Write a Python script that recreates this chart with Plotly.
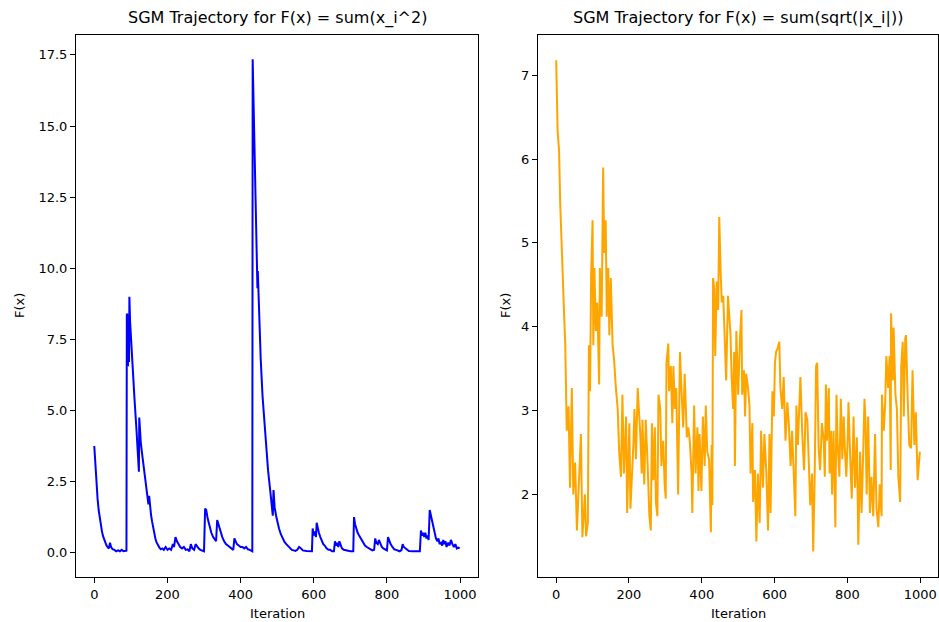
import plotly.graph_objects as go

# ---------------- data ----------------
sq_iter = [0, 3, 6, 9, 12, 15, 18, 21, 24, 27, 30, 33, 36, 40, 43, 46, 50, 55, 60, 65, 70, 75, 80, 85, 88,
           89, 91, 92, 94, 95, 96, 98, 100, 105, 110, 115, 119, 122, 123, 125, 126, 127, 130, 135, 140, 145,
           148, 150, 152, 155, 158, 161, 164, 167, 170, 174, 178, 182, 186, 190, 195, 200, 205, 210, 215,
           218, 222, 226, 230, 235, 240, 245, 250, 255, 260, 264, 268, 273, 277, 281, 285, 290, 295, 300,
           303, 306, 310, 315, 320, 325, 330, 333, 336, 339, 342, 346, 350, 355, 360, 365, 370, 375, 380,
           383, 386, 390, 395, 400, 405, 410, 415, 420, 425, 430, 432,
           433, 435, 438, 441, 444, 446, 447, 450, 455, 460, 465, 470, 475, 480, 485, 488, 490, 493, 497,
           500, 505, 510, 515, 520, 525, 530, 535, 540, 545, 550, 555, 560, 565, 570, 580, 590, 595,
           597, 600, 603, 606, 608, 611, 614, 618, 622, 626, 630, 635, 640, 645, 650, 655, 658, 661, 664,
           667, 670, 673, 677, 682, 688, 695, 700, 708,
           710, 713, 716, 720, 724, 728, 732, 736, 740, 745, 750, 755, 760, 765, 768, 771, 775, 778, 782,
           786, 790, 795, 800, 803, 806, 810, 815, 820, 825, 830, 835, 840, 843, 846, 850, 855, 860, 870,
           880, 890, 893, 896, 899, 902, 905, 908, 911, 914, 917, 920, 923, 926, 930, 934, 938, 941, 944,
           948, 951, 954, 957, 960, 963, 967, 971, 975, 979, 983, 987, 991, 995, 999]
sq_value = [3.75, 3.0, 2.4, 1.9, 1.5, 1.2, 0.95, 0.75, 0.58, 0.45, 0.35, 0.27, 0.2, 0.15, 0.35, 0.2, 0.12, 0.1,
            0.05, 0.08, 0.05, 0.1, 0.05, 0.05, 0.07,
            8.4, 8.35, 6.55, 8.3, 6.7, 9.0, 8.1, 7.6, 6.5, 5.4, 4.4, 3.6, 2.85, 4.75, 4.0, 4.3, 3.9, 3.55, 3.0,
            2.5, 2.1, 1.7, 2.0, 1.6, 1.35, 1.1, 0.85, 0.65, 0.5, 0.37, 0.25, 0.18, 0.12, 0.15, 0.1, 0.2, 0.1,
            0.15, 0.1, 0.3, 0.2, 0.55, 0.4, 0.3, 0.2, 0.15, 0.2, 0.1, 0.12, 0.05, 0.3, 0.15, 0.1, 0.3, 0.2,
            0.15, 0.1, 0.08, 0.05,
            1.55, 1.5, 1.2, 0.9, 0.7, 0.55, 0.45, 0.4, 1.15, 1.0, 0.9, 0.7, 0.55, 0.4, 0.3, 0.25, 0.2, 0.15,
            0.1, 0.5, 0.4, 0.3, 0.25, 0.2, 0.2, 0.15, 0.2, 0.12, 0.1, 0.05, 0.05,
            17.35, 16.0, 14.0, 12.0, 10.5, 9.3, 9.9, 8.4, 6.8, 5.5, 4.5, 3.6, 2.9, 2.3, 1.8, 1.3, 2.2, 1.6,
            1.3, 1.1, 0.85, 0.65, 0.5, 0.38, 0.3, 0.22, 0.15, 0.1, 0.08, 0.06, 0.1, 0.2, 0.15, 0.08, 0.06,
            0.05, 0.05,
            0.85, 0.6, 0.75, 0.55, 1.05, 0.85, 0.7, 0.55, 0.4, 0.3, 0.25, 0.15, 0.1, 0.1, 0.05, 0.05, 0.4,
            0.25, 0.35, 0.2, 0.4, 0.25, 0.15, 0.1, 0.08, 0.05, 0.05, 0.05,
            1.25, 1.0, 0.85, 0.7, 0.6, 0.5, 0.4, 0.3, 0.25, 0.2, 0.15, 0.1, 0.08, 0.1, 0.5, 0.35, 0.3, 0.45,
            0.3, 0.2, 0.15, 0.1, 0.08, 0.55, 0.4, 0.3, 0.2, 0.12, 0.1, 0.08, 0.05, 0.1, 0.3, 0.2, 0.15, 0.1,
            0.06, 0.05, 0.05, 0.05, 0.78, 0.6, 0.7, 0.55, 0.7, 0.5, 0.6, 0.45, 1.5, 1.3, 1.1, 0.9, 0.7, 0.5,
            0.4, 0.5, 0.3, 0.35, 0.25, 0.45, 0.3, 0.4, 0.2, 0.35, 0.25, 0.45, 0.3, 0.2, 0.3, 0.15, 0.18, 0.15]

sqrt_iter = [0, 4, 8, 11, 22, 25, 29, 34, 38, 43, 47, 52, 57, 63, 68, 72, 79, 82, 87, 90, 93, 96, 100, 102,
             105, 109, 113, 118, 120, 125, 129, 132, 136, 139, 143, 146, 150, 155, 159, 164, 169, 173, 178,
             182, 186, 192, 195, 201, 204, 212,
             215, 219, 224, 226, 231, 235, 237, 242, 246, 251, 256, 260, 263, 267, 271, 274, 278, 281, 286,
             289, 294, 298, 301, 303, 308, 310, 315, 319, 322, 326, 330, 335, 338, 340, 344, 349, 353, 356,
             359, 363, 367, 372, 374, 379, 383, 388, 391, 394, 399, 403, 408, 411, 415, 420, 422, 425, 427,
             429, 431, 434, 437, 441, 445, 448, 452, 455, 459, 463, 467, 472,
             475, 479, 482, 486, 489, 491, 495, 500, 505, 509, 511, 516, 519, 522, 527, 531, 534, 539, 541,
             546, 550, 554, 559, 563, 568, 572, 577, 582, 586, 589, 594, 598, 601, 604, 608, 613, 616, 621,
             625, 630, 635, 639, 644, 648, 653, 657, 660, 664, 668, 671, 676, 681, 685, 690, 694, 698, 703,
             706, 710, 714, 717, 721, 725, 730, 735,
             738, 741, 744, 749, 751, 755, 758, 762, 767, 770, 773, 778, 782, 786, 790, 793, 797, 801, 803,
             808, 812, 817, 821, 826, 830, 835, 839, 844, 847, 850, 853, 857, 862, 866, 871, 876, 880, 885,
             889, 894, 895, 900, 904, 907, 912, 916, 919, 920, 925, 927, 932, 936, 940, 945, 948, 952, 955,
             959, 961, 966, 970, 975, 979, 984, 988, 993, 999]
sqrt_value = [7.18, 6.33, 6.1, 5.48, 4.12, 3.78, 2.76, 3.05, 2.08, 3.27, 2.0, 2.38, 1.57, 2.25, 2.72, 1.49,
              2.0, 1.5, 1.66, 3.78, 3.23, 4.63, 5.27, 3.78, 4.7, 3.95, 4.29, 3.31, 4.7, 4.12, 5.9, 4.88, 5.27,
              4.12, 4.7, 3.9, 4.58, 3.78, 3.61, 3.27, 3.02, 2.51, 2.21, 3.19, 2.25, 2.93, 1.78, 2.85, 1.83,
              2.59,
              3.02, 2.42, 3.27, 3.1, 2.72, 2.25, 2.89, 2.12, 2.89, 2.38, 1.74, 1.57, 2.85, 2.17, 2.8, 1.91,
              1.74, 3.19, 3.02, 2.34, 2.64, 2.12, 1.95, 3.57, 3.8, 3.23, 3.53, 2.85, 3.53, 3.02, 3.27, 2.0,
              3.44, 3.7, 3.27, 2.8, 3.44, 3.06, 2.68, 2.8, 2.64, 2.25, 1.78, 3.06, 2.25, 2.8, 2.04, 2.72,
              2.04, 2.93, 2.34, 3.06, 2.51, 2.42, 1.87, 1.55, 2.59, 1.87, 4.58, 4.46, 3.65, 4.54, 4.2, 5.31,
              4.63, 4.29, 4.37, 3.78, 3.36, 4.37,
              4.2, 3.9, 3.4, 3.02, 3.7, 2.34, 3.95, 3.19, 3.86, 4.2, 3.19, 3.48, 2.93, 3.44, 3.27, 3.06, 2.25,
              2.85, 1.91, 2.29, 1.44, 2.25, 1.66, 2.76, 2.08, 2.72, 2.29, 1.57, 2.72, 1.78, 3.23, 2.93, 3.57,
              3.7, 3.74, 3.82, 3.27, 3.02, 3.4, 2.64, 3.1, 2.85, 2.34, 2.76, 2.21, 1.74, 3.06, 2.59, 3.06,
              3.4, 2.72, 2.29, 2.98, 2.89, 2.38, 1.87, 2.25, 1.32, 2.17, 3.53, 3.57, 2.55, 2.29, 2.85, 2.64,
              2.21, 3.31, 2.64, 3.27, 2.25, 2.76, 2.0, 2.76, 1.61, 3.19, 2.64, 2.21, 3.14, 2.42, 2.93, 2.55,
              2.21, 2.68, 3.1, 2.42, 1.95, 2.93, 2.08, 2.68, 1.4, 2.51, 1.78, 2.59, 3.14, 2.85, 2.0, 2.93,
              1.78, 2.21, 1.74, 2.72, 1.83, 1.61, 2.12, 1.74, 3.19, 2.76, 3.1, 3.65, 3.27, 3.65, 2.29, 4.16,
              3.36, 3.99, 3.19, 3.02, 2.21, 1.91, 3.53, 3.82, 2.93, 3.86, 3.9, 3.1, 2.59, 2.55, 3.48, 2.59,
              2.98, 2.17, 2.51]

x_ticks = [0, 200, 400, 600, 800, 1000]
left_y_ticks = [0.0, 2.5, 5.0, 7.5, 10.0, 12.5, 15.0, 17.5]
left_y_labels = ["0.0", "2.5", "5.0", "7.5", "10.0", "12.5", "15.0", "17.5"]
right_y_ticks = [2, 3, 4, 5, 6, 7]

title_left = "SGM Trajectory for F(x) = sum(x_i^2)"
title_right = "SGM Trajectory for F(x) = sum(sqrt(|x_i|))"

# ---------------- figure ----------------
W, H = 939, 622
FONT = "DejaVu Sans"

fig = go.Figure()
fig.add_trace(go.Scatter(x=sq_iter, y=sq_value, mode="lines",
                         line=dict(color="#0000ff", width=2), xaxis="x", yaxis="y",
                         showlegend=False))
fig.add_trace(go.Scatter(x=sqrt_iter, y=sqrt_value, mode="lines",
                         line=dict(color="#ffa500", width=2), xaxis="x2", yaxis="y2",
                         showlegend=False))

xl = [76 / W, 478 / W]
xr = [538 / W, 938 / W]
yd = [1 - 577 / H, 1 - 35 / H]

axis_common = dict(showline=True, mirror=True, linecolor="black", linewidth=1,
                   ticks="outside", ticklen=5, tickwidth=1, tickcolor="black",
                   showgrid=False, zeroline=False,
                   tickfont=dict(family=FONT, size=13, color="black"))

fig.update_layout(
    width=W, height=H, autosize=False,
    margin=dict(l=0, r=0, t=0, b=0),
    paper_bgcolor="white", plot_bgcolor="white",
    xaxis=dict(domain=xl, range=[-49.95, 1048.95], tickvals=x_ticks, anchor="y", **axis_common),
    yaxis=dict(domain=yd, range=[-0.855, 18.2], tickvals=left_y_ticks, ticktext=left_y_labels,
               anchor="x", **axis_common),
    xaxis2=dict(domain=xr, range=[-49.95, 1048.95], tickvals=x_ticks, anchor="y2", **axis_common),
    yaxis2=dict(domain=yd, range=[1.015, 7.48], tickvals=right_y_ticks, anchor="x2", **axis_common),
)

ann = []
for dom, t in ((xl, title_left), (xr, title_right)):
    cx = (dom[0] + dom[1]) / 2
    ann.append(dict(text=t, x=cx, y=1 - 18 / H, xref="paper", yref="paper",
                    xanchor="center", yanchor="middle", showarrow=False,
                    font=dict(family=FONT, size=16, color="black")))
    ann.append(dict(text="Iteration", x=cx, y=1 - 613 / H, xref="paper", yref="paper",
                    xanchor="center", yanchor="middle", showarrow=False,
                    font=dict(family=FONT, size=13, color="black")))
for fx in (19 / W, 505 / W):
    ann.append(dict(text="F(x)", x=fx, y=1 - 306 / H, xref="paper", yref="paper",
                    xanchor="center", yanchor="middle", textangle=-90, showarrow=False,
                    font=dict(family=FONT, size=13, color="black")))
fig.update_layout(annotations=ann)

fig.write_html("out.html")
